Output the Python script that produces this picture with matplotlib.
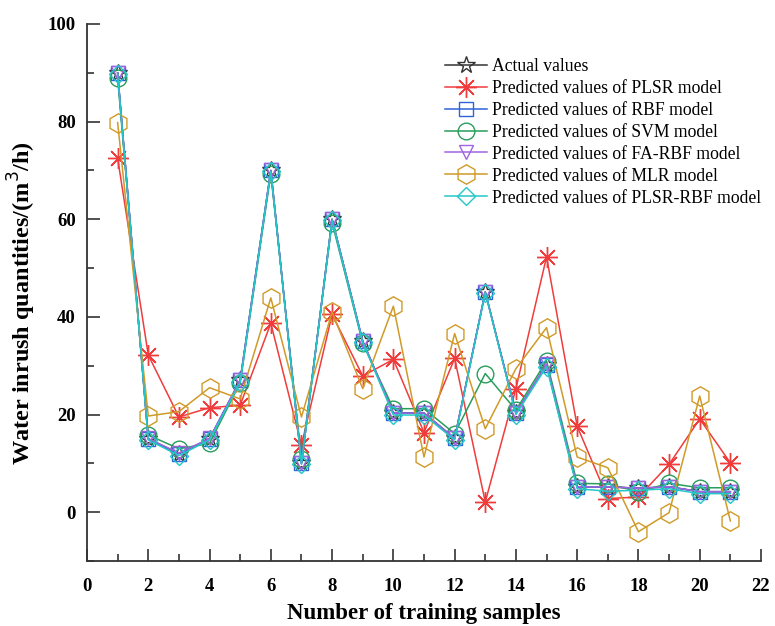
import matplotlib
matplotlib.use("Agg")
import matplotlib.pyplot as plt
from matplotlib.ticker import MultipleLocator

x = list(range(1, 22))
actual = [90, 15, 12, 15, 27, 70, 10, 60, 35, 20.3, 20.3, 15.1, 45.1, 20.3, 30.2, 5.2, 5.2, 4.9, 5.2, 4.2, 4.2]
plsr = [72.5, 32.2, 19.5, 21.4, 21.9, 38.7, 13.7, 40.5, 27.9, 31.3, 16.3, 31.5, 2.1, 25.3, 52.3, 17.6, 2.8, 3.1, 9.8, 19.1, 10.1]
rbf = [90, 15, 12, 15, 27, 70, 10, 60, 35, 20.3, 20.3, 15.1, 45.1, 20.3, 30.2, 5.2, 5.2, 4.9, 5.2, 4.2, 4.2]
svm = [88.9, 15.8, 13.0, 14.1, 26.5, 69.3, 10.9, 59.3, 34.6, 21.2, 21.2, 16.1, 28.4, 20.9, 31.0, 5.9, 5.8, 4.2, 5.9, 5.0, 5.0]
fa_rbf = [90.0, 15.1, 12.1, 15.1, 27.1, 70.0, 10.1, 60.0, 35.1, 20.3, 20.3, 15.1, 45.1, 20.3, 30.3, 5.2, 5.2, 4.9, 5.2, 4.2, 4.2]
mlr = [79.8, 19.7, 20.6, 25.5, 23.2, 43.9, 19.5, 41.0, 25.3, 42.2, 11.3, 36.6, 17.1, 29.4, 37.8, 11.3, 9.1, -4.0, -0.1, 23.8, -1.8]
plsr_rbf = [89.8, 14.8, 11.6, 14.8, 26.6, 69.8, 9.8, 59.8, 34.8, 19.9, 19.9, 14.8, 45.0, 20.0, 29.8, 4.8, 4.3, 4.5, 4.8, 3.8, 3.8]

labels = ["Actual values",
          "Predicted values of PLSR model",
          "Predicted values of RBF model",
          "Predicted values of SVM model",
          "Predicted values of FA-RBF model",
          "Predicted values of MLR model",
          "Predicted values of PLSR-RBF model"]

plt.rcParams['font.family'] = ['Liberation Serif', 'DejaVu Serif']

fig = plt.figure(figsize=(7.75, 6.26), dpi=100)
ax = fig.add_axes([87/775, 1 - 561/626, (761-87)/775, (561-24)/626])

lw = 1.1
ax.plot(x, actual, color='#333333', marker='*', ms=13, mfc='none', mew=1.0, lw=lw, label=labels[0])
ax.plot(x, plsr, color='#f03c3c', marker=(8, 2, 0), ms=15, mew=1.0, lw=lw, label=labels[1])
ax.plot(x, rbf, color='#2f62d8', marker='s', ms=10, mfc='none', mew=1.0, lw=lw, label=labels[2])
ax.plot(x, svm, color='#2a9d5c', marker='o', ms=12, mfc='none', mew=1.0, lw=lw, label=labels[3])
ax.plot(x, fa_rbf, color='#a064e0', marker='v', ms=10, mfc='none', mew=1.0, lw=lw, label=labels[4])
ax.plot(x, mlr, color='#d09a28', marker='h', ms=14, mfc='none', mew=1.0, lw=lw, label=labels[5])
ax.plot(x, plsr_rbf, color='#22c8c8', marker='D', ms=9, mfc='none', mew=1.0, lw=lw, label=labels[6])

ax.set_xlim(0, 22)
ax.set_ylim(-10, 100)
ax.xaxis.set_major_locator(MultipleLocator(2))
ax.xaxis.set_minor_locator(MultipleLocator(1))
ax.yaxis.set_minor_locator(MultipleLocator(10))
ax.set_yticks([0, 20, 40, 60, 80, 100])

for s in ['top', 'right']:
    ax.spines[s].set_visible(False)
for s in ['left', 'bottom']:
    ax.spines[s].set_linewidth(1.3)
    ax.spines[s].set_color('#333333')

ax.tick_params(which='major', direction='in', length=9, width=1.2, labelsize=13.5, color='#333333', pad=8)
ax.tick_params(axis='x', which='major', pad=12)
ax.tick_params(which='minor', direction='in', length=5, width=1.2, color='#333333')
for t in ax.get_xticklabels() + ax.get_yticklabels():
    t.set_fontweight('bold')

ax.set_xlabel("Number of training samples", fontsize=16.5, fontweight='bold', labelpad=6)
ax.set_ylabel("Water inrush quantities/(m$^3$/h)", fontsize=17.5, fontweight='bold')
ax.yaxis.set_label_coords(-0.072, 0.48)

leg = ax.legend(loc='upper left', bbox_to_anchor=(0.52, 0.95), frameon=False,
                fontsize=12.7, handlelength=2.4, handletextpad=0.3, labelspacing=0.28,
                borderaxespad=0)

fig.savefig("out.png", dpi=100)
